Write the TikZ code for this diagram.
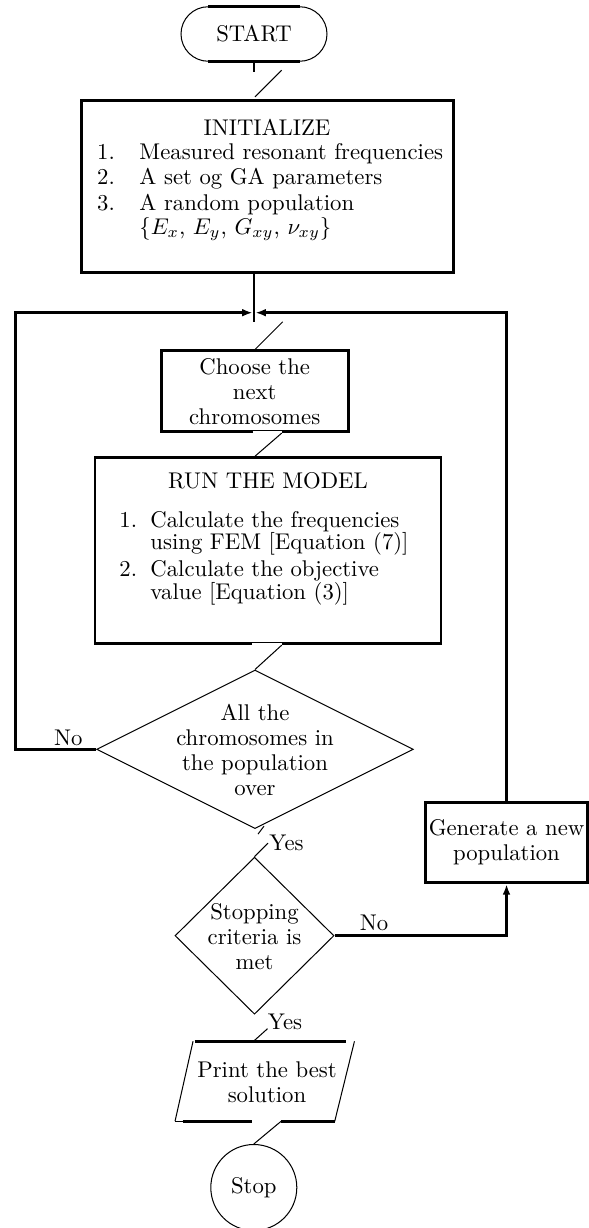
\documentclass[tikz,border=0pt]{standalone}
\usetikzlibrary{shapes.geometric,shapes.misc,arrows.meta,calc}
\def\u{0.44pt}
\begin{document}
\begin{tikzpicture}[x=0.44pt,y=-0.44pt,
  thinline/.style={line width=0.45pt},
  thickline/.style={line width=1.3pt},
  box/.style={draw, thickline, rectangle, inner sep=0pt},
  txt/.style={font=\fontsize{10}{11}\selectfont, align=center, inner sep=0pt},
  item/.style={font=\fontsize{10}{11}\selectfont, anchor=base west, inner sep=0pt},
  arr/.style={thickline,-{Latex[length=4.6pt,width=3.4pt]}},
  gapline/.style={white, line width=2.2pt}]
\useasboundingbox (0,0) rectangle (589,1228);

% START
\node[rounded rectangle, draw, thinline, minimum width=146*\u, minimum height=54.5*\u, inner sep=0pt, font=\fontsize{10}{11}\selectfont] (start) at (254,34) {START};
\draw[thickline] ($(start.north)+(-46,0)$) -- ($(start.north)+(46,0)$);
\draw[thickline] ($(start.south)+(-46,0)$) -- ($(start.south)+(46,0)$);
\draw[thickline] (start.south) -- ++(0,10);

% INITIALIZE
\node[box, minimum width=371.6*\u, minimum height=172.7*\u] (init) at (267.5,186.4) {};
\draw[thinline] ($(init.north -| start.south)+(1,-1.7)$) -- ++(26.7,-26.6);
\node[txt] (inittitle) at (267,127) {INITIALIZE};
\node[item] (i1n) at (96.7,159.7) {1.};
\node[item] (i1t) at (139,159.7) {Measured resonant frequencies};
\node[item] (i2n) at (96.7,185) {2.};
\node[item] (i2t) at (139,185) {A set og GA parameters};
\node[item] (i3n) at (96.7,210.3) {3.};
\node[item] (i3t) at (139,210.3) {A random population};
\node[item] (i3m) at (139,234.3) {$\{E_x$, $E_y$, $G_{xy}$, $\nu_{xy}\}$};

% junction
\coordinate (j) at (254,312.7);
\coordinate (lc) at (15.7,312.7);
\draw[thickline] (init.south -| j) -- ($(j)+(0,9.5)$);

% Choose
\node[box, minimum width=187.3*\u, minimum height=80.7*\u] (choose) at (254.7,391.3) {};
\node[txt] (chooset) at (choose) {Choose the\\next\\chromosomes};
\draw[thinline] ($(choose.north -| j)+(1,0)$) -- ++(27.7,-27.7);

% RUN
\node[box, minimum width=346*\u, minimum height=186*\u] (run) at (268,550.7) {};
\draw[gapline] ($(choose.south -| j)+(-1.5,0)$) -- ++(29.2,0);
\draw[thinline] ($(choose.south -| j)+(27.7,0)$) -- ($(run.north -| j)+(1,0)$);
\node[txt] (runtitle) at (268,481) {RUN THE MODEL};
\node[item] (r1n) at (119,527.7) {1.};
\node[item] (r1t) at (150,527.7) {Calculate the frequencies};
\node[item] (r1u) at (150,549.7) {using FEM [Equation (7)]};
\node[item] (r2n) at (119,576.7) {2.};
\node[item] (r2t) at (150,576.7) {Calculate the objective};
\node[item] (r2u) at (150,599.7) {value [Equation (3)]};

% Diamond 1
\node[diamond, draw, thinline, minimum width=316.6*\u, minimum height=158.6*\u, inner sep=0pt] (d1) at (255,749.3) {};
\node[txt, font=\fontsize{10}{10.9}\selectfont] (d1t) at (255,750) {All the\\chromosomes in\\the population\\over};
\draw[gapline] ($(run.south -| j)+(-2,0)$) -- ++(29.7,0);
\draw[thinline] ($(run.south -| j)+(27.7,0)$) -- (d1.north);
\node[txt] (no1) at (68.3,737.7) {No};
\draw[arr, shorten >=0.6pt] (d1.west) -| (lc) -- (j);

% Yes 1
\node[txt, anchor=west] (yes1) at (269,843) {Yes};
\draw[thinline] ($(d1.south)+(3,5)$) -- ++(6,-8);

% Diamond 2
\node[diamond, draw, thinline, minimum width=159*\u, minimum height=157*\u, inner sep=0pt] (d2) at (254.5,935.7) {};
\node[txt] (d2t) at (254.5,937) {Stopping\\criteria is\\met};
\draw[thinline] ($(d1.south)+(13,14)$) -- (d2.north);

% Generate
\node[box, minimum width=161.6*\u, minimum height=80.4*\u] (gen) at (506.5,842.5) {};
\node[txt] (gent) at (gen) {Generate a new\\population};
\node[txt] (no2) at (374,923) {No};
\draw[arr] (d2.east) -| (gen.south);
\draw[arr, shorten >=0.6pt] (gen.north) |- (j);

% Yes 2
\node[txt] (yes2) at (285,1021.7) {Yes};

% Print
\node[minimum width=178.5*\u, minimum height=79*\u, inner sep=0pt] (print) at (264.75,1081.2) {};
\draw[thinline] ($(d2.south)+(13,14)$) -- ($(print.north west)+(78.5,0)$);
\draw[thinline] (print.south west) -- ($(print.north west)+(18,0)$);
\draw[thinline] (print.north east) -- ($(print.south east)+(-19.7,0)$);
\draw[thickline] ($(print.north west)+(19.5,0)$) -- ($(print.north east)+(-8.3,0)$);
\draw[thinline] (print.south west) -- ($(print.south west)+(7.5,0)$);
\draw[thickline] ($(print.south west)+(7.5,0)$) -- ($(print.south west)+(77.2,0)$);
\draw[thickline] ($(print.south west)+(106.2,0)$) -- ($(print.south east)+(-19.7,0)$);
\node[txt] (printt) at (267,1082.5) {Print the best\\solution};

% Stop
\node[circle, draw, thinline, minimum size=86*\u, inner sep=0pt, font=\fontsize{10}{11}\selectfont] (stop) at (253.8,1187.5) {Stop};
\draw[thinline] ($(print.south west)+(106.2,0)$) -- (stop.north);
\end{tikzpicture}
\end{document}
